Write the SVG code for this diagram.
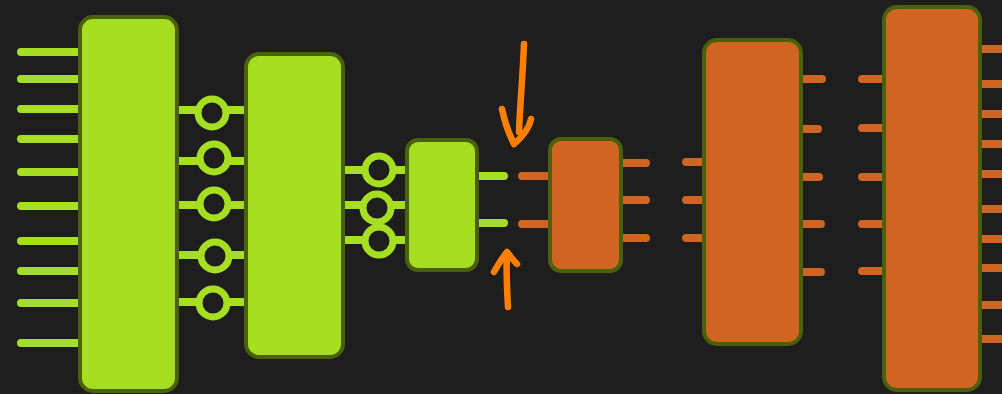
<svg xmlns="http://www.w3.org/2000/svg" width="1002" height="394" viewBox="0 0 1002 394">
<style>
.g{stroke:#a6df22;stroke-width:8;stroke-linecap:round;fill:none}
.o{stroke:#d06423;stroke-width:8;stroke-linecap:round;fill:none}
.ring{stroke:#a6df22;stroke-width:7;fill:#1e1e1e}
.bg{fill:#a6df22;stroke:#4a600a;stroke-width:4}
.bo{fill:#d06423;stroke:#4a600a;stroke-width:4}
.arrow{stroke:#ff8000;stroke-width:6.5;stroke-linecap:round;stroke-linejoin:round;fill:none}
</style>
<rect width="1002" height="394" fill="#1e1e1e"/>
<g id="connectors">
  <path class="g" d="M21,52H82M21,79H82M21,109H82M21,139H82M21,172H82M21,206H82M21,241H82M21,271H82M21,303H82M21,343H82"/>
  <path class="g" d="M176,110H248M176,161H248M176,205H248M176,255H248M176,302H248"/>
  <path class="g" d="M341,170H409M341,205H409M341,240H409"/>
  <path class="g" d="M474,176H504M474,223H504"/>
  <path class="o" d="M522,176H553M522,224H553"/>
  <path class="o" d="M618,163H646M618,200H646M618,238H646"/>
  <path class="o" d="M686,162H707M686,200H707M686,238H707"/>
  <path class="o" d="M798,79H822M798,129H818M798,177H819M798,224H821M798,272H821"/>
  <path class="o" d="M862,79H887M862,128H887M862,177H887M862,224H887M862,271H887"/>
  <path class="o" d="M977,49H1010M977,84H1010M977,114H1010M977,144H1010M977,174H1010M977,209H1010M977,239H1010M977,268H1010M977,305H1010M977,339H1010"/>
  <path class="arrow" d="M524,44C523,72 520,105 519,132M502,109C505,124 510,136 514,144C521,138 529,130 531,119"/>
  <path class="arrow" d="M508,307C507,290 506,270 507,254M494,272C499,263 503,257 507,252C510,256 514,261 517,264"/>
</g>
<g id="ring1"><circle class="ring" cx="212" cy="113" r="14"/></g>
<g id="ring2"><circle class="ring" cx="214" cy="158" r="14"/></g>
<g id="ring3"><circle class="ring" cx="214" cy="204" r="14"/></g>
<g id="ring4"><circle class="ring" cx="215" cy="256" r="14"/></g>
<g id="ring5"><circle class="ring" cx="213" cy="303" r="14"/></g>
<g id="ring6"><circle class="ring" cx="379" cy="170" r="14"/></g>
<g id="ring7"><circle class="ring" cx="377" cy="208" r="14"/></g>
<g id="ring8"><circle class="ring" cx="379" cy="241" r="14"/></g>
<g id="enc1"><rect class="bg" x="80" y="17" width="97" height="374" rx="13"/></g>
<g id="enc2"><rect class="bg" x="246" y="54" width="97" height="303" rx="13"/></g>
<g id="enc3"><rect class="bg" x="407" y="140" width="70" height="130" rx="11"/></g>
<g id="dec1"><rect class="bo" x="550" y="139" width="71" height="132" rx="11"/></g>
<g id="dec2"><rect class="bo" x="704" y="40" width="97" height="304" rx="13"/></g>
<g id="dec3"><rect class="bo" x="884" y="7" width="96" height="383" rx="13"/></g>
</svg>
